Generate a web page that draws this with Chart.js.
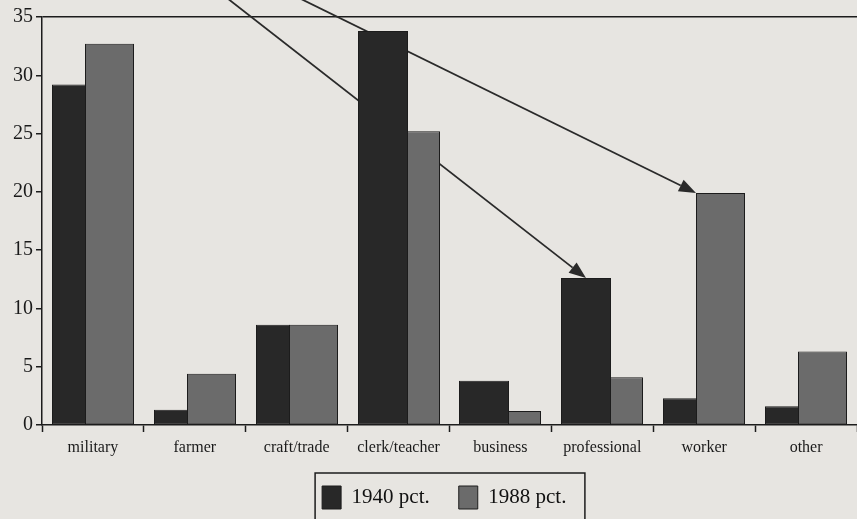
<!DOCTYPE html>
<html>
<head>
<meta charset="utf-8">
<script src="https://cdn.jsdelivr.net/npm/chart.js@4"></script>
<style>
  html, body { margin: 0; padding: 0; background: #e7e5e1; }
  #wrap { width: 857px; height: 519px; position: relative; }
</style>
</head>
<body>
<div id="wrap"><canvas id="chart"></canvas></div>
<script>
// occupations, share in percent
const categories = ['military', 'farmer', 'craft/trade', 'clerk/teacher', 'business', 'professional', 'worker', 'other'];
const pct1940 = [29.2, 1.3, 8.6, 33.8, 3.8, 12.6, 2.3, 1.6];
const pct1988 = [32.7, 4.4, 8.6, 25.2, 1.2, 4.1, 19.9, 6.3];
const seriesLabels = ['1940 pct.', '1988 pct.'];
const yTicks = [0, 5, 10, 15, 20, 25, 30, 35];

// the two hand-drawn arrows: start (category index, value) -> bar they point to
const arrows = [
    { from: [1.32, 36.6], dataset: 0, index: 5, anchor: 'center' },
    { from: [2.03, 36.6], dataset: 1, index: 6, anchor: 'left' }
];

const ink = '#1c1c1c';
const serif = '"Liberation Serif", "DejaVu Serif", serif';

// taller bar of each pair is drawn wider (the shorter one sits behind it)
const overlapBars = {
    id: 'overlapBars',
    afterDatasetsUpdate(chart) {
        const m0 = chart.getDatasetMeta(0).data;
        const m1 = chart.getDatasetMeta(1).data;
        m0.forEach((a, i) => {
            const b = m1[i];
            const total = Math.round(a.width + b.width);
            const left = Math.round((a.x + b.x) / 2 - total / 2);
            const front1988 = pct1988[i] >= pct1940[i];
            const wa = Math.round(total * (front1988 ? 0.4 : 0.6));
            const wb = total - wa;
            // 1px overlap so nothing shows through the seam
            a.width = wa + 1;
            a.x = left + (wa + 1) / 2;
            b.width = wb;
            b.x = left + wa + wb / 2;
        });
    }
};

const arrowLines = {
    id: 'arrowLines',
    beforeDatasetsDraw(chart) {
        const ctx = chart.ctx;
        const xs = chart.scales.x, ys = chart.scales.y;
        ctx.save();
        ctx.strokeStyle = '#2a2a2a';
        ctx.fillStyle = '#2a2a2a';
        ctx.lineWidth = 1.8;
        arrows.forEach(a => {
            const el = chart.getDatasetMeta(a.dataset).data[a.index];
            const tx = a.anchor === 'left' ? el.x - el.width / 2 : el.x;
            const ty = el.y;
            const sx = xs.getPixelForValue(a.from[0]);
            const sy = ys.getPixelForValue(a.from[1]);
            const ang = Math.atan2(ty - sy, tx - sx);
            const len = 17, half = 6.5;
            const bx = tx - len * Math.cos(ang), by = ty - len * Math.sin(ang);
            ctx.beginPath();
            ctx.moveTo(sx, sy);
            ctx.lineTo(bx, by);
            ctx.stroke();
            ctx.beginPath();
            ctx.moveTo(tx, ty);
            ctx.lineTo(bx + half * Math.sin(ang), by - half * Math.cos(ang));
            ctx.lineTo(bx - half * Math.sin(ang), by + half * Math.cos(ang));
            ctx.closePath();
            ctx.fill();
        });
        ctx.restore();
    }
};

const legendFrame = {
    id: 'legendFrame',
    afterDraw(chart) {
        const lg = chart.legend;
        if (!lg || !lg.legendHitBoxes.length) return;
        const boxes = lg.legendHitBoxes;
        const first = boxes[0], last = boxes[boxes.length - 1];
        const ctx = chart.ctx;
        ctx.save();
        ctx.strokeStyle = ink;
        ctx.lineWidth = 1.5;
        const x0 = first.left - 7;
        ctx.strokeRect(x0, lg.top - 5, last.left + last.width + 8 - x0, chart.height);
        ctx.restore();
    }
};

new Chart(document.getElementById('chart').getContext('2d'), {
    type: 'bar',
    data: {
        labels: categories,
        datasets: [{
            label: seriesLabels[0],
            data: pct1940,
            backgroundColor: '#282828',
            borderColor: ink,
            borderWidth: 1
        }, {
            label: seriesLabels[1],
            data: pct1988,
            backgroundColor: '#6b6b6b',
            borderColor: ink,
            borderWidth: 1
        }]
    },
    options: {
        responsive: true,
        maintainAspectRatio: false,
        animation: false,
        layout: { padding: { left: 10, top: 17, right: 0, bottom: 0 } },
        datasets: { bar: { categoryPercentage: 0.8, barPercentage: 1.0, borderSkipped: false } },
        scales: {
            x: {
                grid: { offset: true, drawOnChartArea: false, tickLength: 7, tickColor: ink, tickWidth: 1.5 },
                border: { color: ink, width: 1.5 },
                ticks: { color: '#1a1a1a', font: { family: serif, size: 16 }, padding: 6, maxRotation: 0 },
                afterFit(scale) { scale.height = 53; }
            },
            y: {
                min: 0,
                max: 35,
                afterBuildTicks(scale) { scale.ticks = yTicks.map(v => ({ value: v })); },
                grid: {
                    tickLength: 6,
                    tickColor: ink,
                    tickWidth: 1.5,
                    lineWidth: 1.5,
                    color: c => (c.tick && c.tick.value === 35 ? ink : 'rgba(0,0,0,0)')
                },
                border: { color: ink, width: 1.5 },
                ticks: { color: '#1a1a1a', font: { family: serif, size: 20 }, padding: 3 }
            }
        },
        plugins: {
            tooltip: { enabled: false },
            legend: {
                position: 'bottom',
                fullSize: false,
                labels: {
                    boxWidth: 19,
                    boxHeight: 23,
                    padding: 8,
                    color: '#111',
                    font: { family: serif, size: 21 },
                    generateLabels(chart) {
                        const items = Chart.defaults.plugins.legend.labels.generateLabels(chart);
                        return items.map((l, i) => {
                            l.text = l.text + (i < items.length - 1 ? '\u2002\u2002' : '\u2002');
                            l.lineWidth = 1;
                            return l;
                        });
                    }
                }
            }
        }
    },
    plugins: [overlapBars, arrowLines, legendFrame]
});
</script>
</body>
</html>
